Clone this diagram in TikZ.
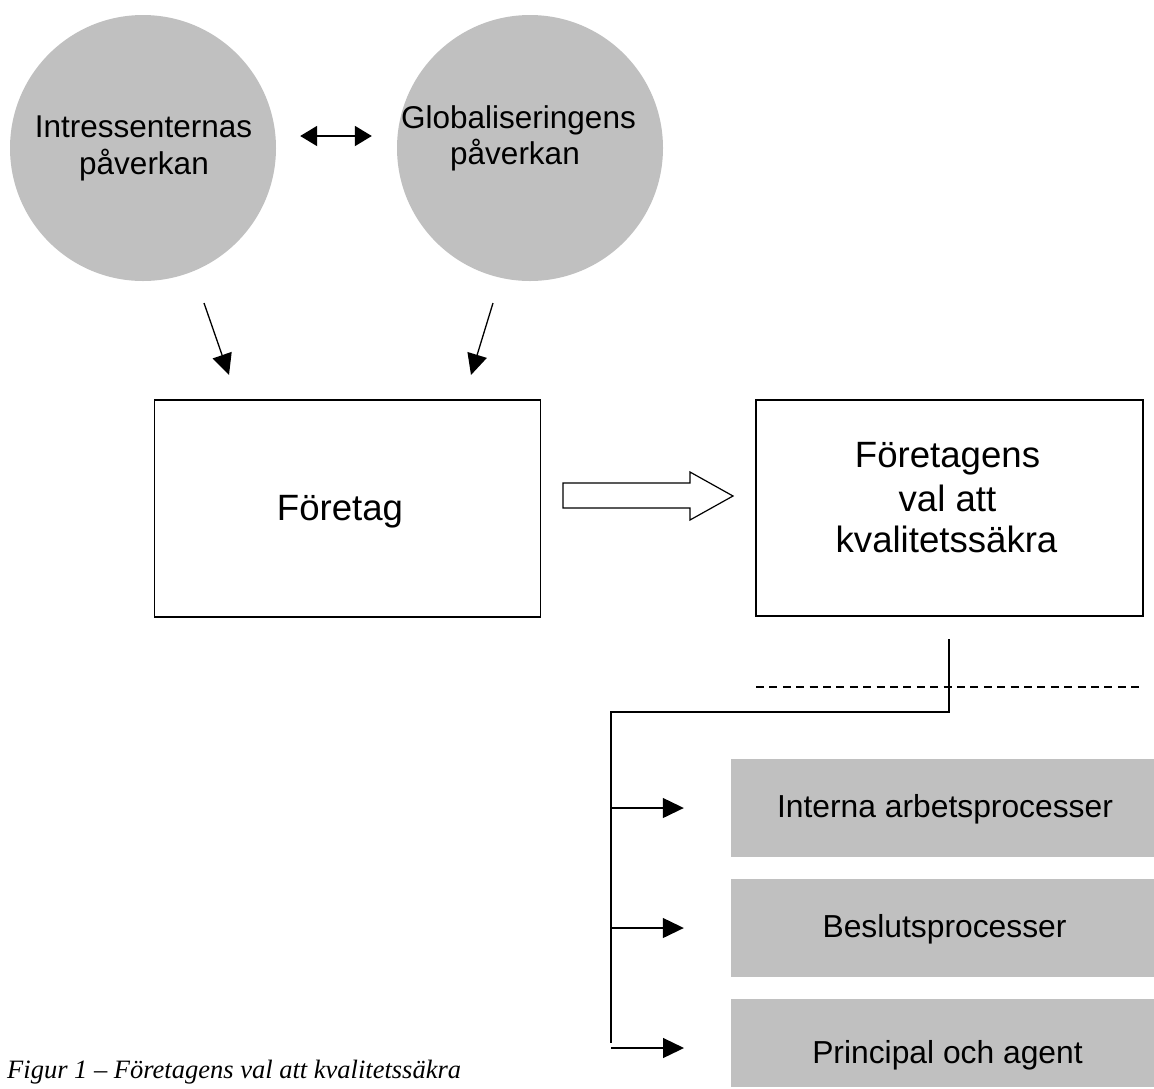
\documentclass[tikz,border=0pt]{standalone}
\usepackage{fontspec}
\setmainfont{Liberation Sans}
\newfontfamily\capfont{Liberation Serif}
\usetikzlibrary{arrows.meta,calc}
\definecolor{lgray}{RGB}{192,192,192}
\tikzset{
  bubble/.style={circle,fill=lgray,minimum size=266pt,inner sep=0pt},
  bubtext/.style={align=center,font=\fontsize{31.5pt}{36pt}\selectfont,inner sep=0pt,anchor=base},
  bigbox/.style={draw,line width=1.5pt,minimum width=386pt,minimum height=217pt,inner sep=0pt},
  boxtext/.style={align=center,font=\fontsize{36.6pt}{42pt}\selectfont,inner sep=0pt,anchor=base},
  graybox/.style={fill=lgray,minimum width=423pt,inner sep=0pt},
  graytext/.style={font=\fontsize{31.8pt}{36pt}\selectfont,inner sep=0pt,anchor=base},
  conn/.style={line width=1.3pt},
  tri/.style={conn,-{Triangle[length=21pt,width=20pt]}},
}
\begin{document}
\begin{tikzpicture}[x=1pt,y=-1pt]
\useasboundingbox (0,0) rectangle (1154,1088);
% bubbles
\node[bubble] (c1) at (143,148) {};
\node[bubble] (c2) at (530,148) {};
\node[bubtext] (t1a) at (143.5,137) {Intressenternas};
\node[bubtext] (t1b) at (144,174) {påverkan};
\node[bubtext] (t2a) at (518.5,128) {Globaliseringens};
\node[bubtext] (t2b) at (515,164) {påverkan};
\draw[line width=2pt,{Triangle[length=17pt,width=20pt]}-{Triangle[length=17pt,width=20pt]}]
  ([yshift=12pt,xshift=24pt]c1.east) -- ([yshift=12pt,xshift=-25pt]c2.west);
% down arrows
\coordinate (a1s) at (204,303);
\coordinate (a1e) at (229,375);
\coordinate (a2s) at (493,303);
\coordinate (a2e) at (471,375);
\draw[tri] (a1s) -- (a1e);
\draw[tri] (a2s) -- (a2e);
% big boxes
\node[bigbox] (f1) at (347.5,508.5) {};
\node[boxtext] (f1t) at (340,520) {Företag};
\node[bigbox,minimum width=387pt,minimum height=216pt] (f2) at (949.5,508) {};
\node[boxtext] (f2a) at (947.5,467) {Företagens};
\node[boxtext] (f2b) at (947.5,511) {val att};
\node[boxtext] (f2c) at (946.5,552) {kvalitetssäkra};
% hollow arrow
\draw[line width=1.2pt,fill=white] (563,483) -- (690,483) -- (690,472) -- (733,496) -- (690,520) -- (690,508) -- (563,508) -- cycle;
% tree
\coordinate (v0) at (949,639);
\coordinate (v1) at (949,712);
\coordinate (v2) at (611,712);
\coordinate (v3) at (611,1043);
\draw[conn] (v0) -- (v1) -- (v2) -- (v3);
\coordinate (d0) at (756,687);
\coordinate (d1) at (1144,687);
\draw[conn,dash pattern=on 8pt off 5.4pt] (d0) -- (d1);
% gray boxes
\node[graybox,minimum height=98pt] (b1) at (942.5,808) {};
\node[graybox,minimum height=98pt] (b2) at (942.5,928) {};
\node[graybox,minimum height=88pt] (b3) at (942.5,1043) {};
\node[graytext] (b1t) at (945,817) {Interna arbetsprocesser};
\node[graytext] (b2t) at (944.5,937) {Beslutsprocesser};
\node[graytext] (b3t) at (947.5,1063) {Principal och agent};
\draw[tri] (v2 |- b1.west) -- ([xshift=-47pt]b1.west);
\draw[tri] (v2 |- b2.west) -- ([xshift=-47pt]b2.west);
\coordinate (e3s) at (611,1048);
\coordinate (e3e) at (684,1048);
\draw[tri] (e3s) -- (e3e);
% caption
\node[font=\capfont\itshape\fontsize{26.5pt}{30pt}\selectfont,anchor=base west,inner sep=0pt] (cap) at (7,1078) {Figur 1 – Företagens val att kvalitetssäkra};
\end{tikzpicture}
\end{document}
